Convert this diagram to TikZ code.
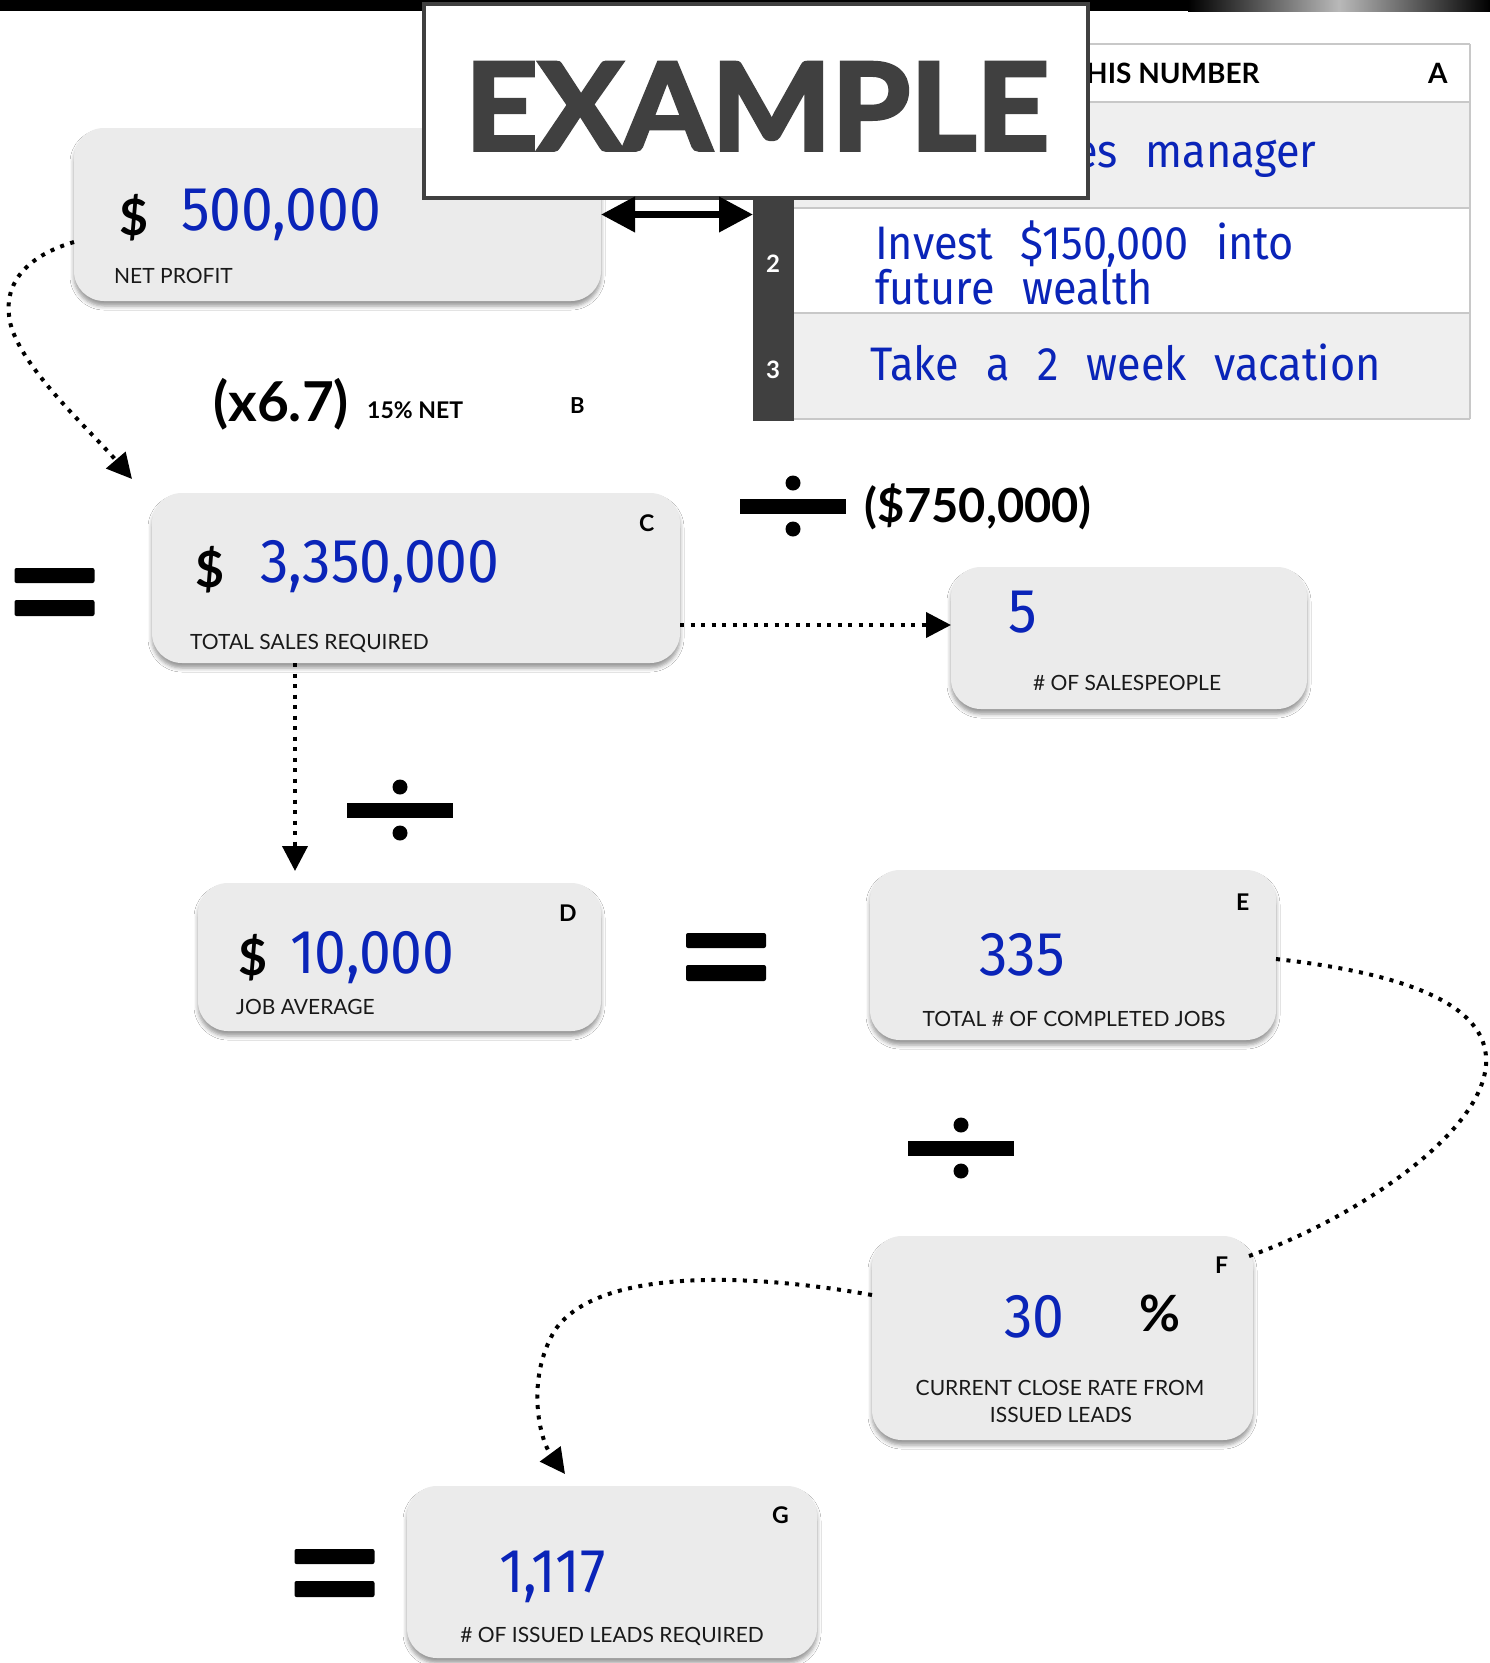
\documentclass[tikz,border=0pt]{standalone}
\usepackage{fontspec}
\setmainfont{Lato}
\newfontfamily\hand[FakeStretch=0.92,WordSpace=2.4]{Fira Sans}
\newfontfamily\exfont[FakeBold=3,FakeStretch=1.05]{Lato}
\usetikzlibrary{arrows.meta,shadows.blur}
\definecolor{boxgray}{HTML}{EBEBEB}
\definecolor{hblue}{HTML}{0A24B8}
\definecolor{exgray}{HTML}{404040}
\definecolor{rowgray}{HTML}{EFEFEF}
\definecolor{linegray}{HTML}{C8C8C8}
\newcommand\fs[1]{\fontsize{#1}{#1}\selectfont}
\begin{document}
\begin{tikzpicture}[x=1pt,y=-1pt,
  card/.style={draw=none, fill=boxgray, rounded corners=30pt, inner sep=0pt, outer sep=0pt, anchor=north west,
    blur shadow={shadow xshift=0pt, shadow yshift=-5pt, shadow blur radius=4pt, shadow opacity=40}},
  lbl/.style={font=\fs{21}, text=black!90, inner sep=0pt, anchor=base west},
  clbl/.style={font=\fs{21}, text=black!90, inner sep=0pt, anchor=base},
  letter/.style={font=\bfseries\fs{23}, inner sep=0pt, anchor=base west},
  hw/.style={font=\hand\fs{62}, text=hblue, inner sep=0pt, anchor=base west},
  hwrow/.style={font=\hand\fs{47}, text=hblue, inner sep=0pt, anchor=base west},
  dollar/.style={font=\bfseries\fs{50}, inner sep=0pt, anchor=base west},
  dotline/.style={line width=4pt, dash pattern=on 4pt off 6.5pt},
  tip/.style={-{Triangle[length=25pt,width=25pt]}},
  divsign/.pic={\fill (-53,-7.5) rectangle (53,7.5); \fill (0,-23) circle (7.5); \fill (0,23) circle (7.5);},
  eqsign/.pic={\fill[rounded corners=2pt] (-40,-24) rectangle (40,-9); \fill[rounded corners=2pt] (-40,8) rectangle (40,24);},
]
\useasboundingbox (0,0) rectangle (1490,1663);
\fill[white] (0,0) rectangle (1490,1663);
% top bar
\fill[black] (0,0) rectangle (1490,11);
\shade[left color=black, right color=black, middle color=gray!55] (1188,0) rectangle (1490,11);

% table
\fill[rowgray] (794,102) rectangle (1470,208);
\fill[rowgray] (794,313) rectangle (1470,419);
\draw[linegray, line width=1.5pt] (753,44) -- (1470,44) (753,102) -- (1470,102) (794,208) -- (1470,208)
  (794,313) -- (1470,313) (794,419) -- (1470,419) (1470,44) -- (1470,419);
\node[fill=exgray, minimum width=41pt, minimum height=319pt, inner sep=0pt, outer sep=0pt, anchor=north west] (tbar) at (753,102) {};
\node[font=\bfseries\fs{24}, text=white, inner sep=0pt] (n2) at (773,264) {2};
\node[font=\bfseries\fs{24}, text=white, inner sep=0pt] (n3) at (773,370) {3};
\node[font=\bfseries\fs{28}, inner sep=0pt, anchor=base west] (hdr) at (1086,83) {HIS NUMBER};
\node[font=\bfseries\fs{28}, inner sep=0pt, anchor=base west] (lA) at (1428,83) {A};
\node[hwrow] (r1) at (1074,167) {es manager};
\node[hwrow, align=left, font=\hand\fontsize{47}{42}\selectfont] (r2) at (875,304) {Invest \$150,000 into\\future wealth};
\node[hwrow] (r3) at (870,380) {Take a 2 week vacation};

% card A (under the EXAMPLE box)
\node[card, minimum width=527pt, minimum height=173pt] (A) at (74,128) {};

% EXAMPLE box
\node[draw=exgray, line width=3.5pt, fill=white, minimum width=664pt, minimum height=194pt, inner sep=0pt, outer sep=0pt, anchor=north west] (ex) at (424,4) {};
\node[font=\exfont\bfseries\fs{121}, text=exgray, inner sep=0pt, anchor=base] (extext) at (757,150) {EXAMPLE};

% other cards
\node[card, minimum width=528pt, minimum height=170pt] (C) at (152,493) {};
\node[card, minimum width=356pt, minimum height=142pt] (S) at (951,567) {};
\node[card, minimum width=403pt, minimum height=148pt] (D) at (198,883) {};
\node[card, minimum width=406pt, minimum height=170pt] (E) at (870,870) {};
\node[card, minimum width=381pt, minimum height=204pt] (F) at (872,1236) {};
\node[card, minimum width=410pt, minimum height=172pt] (G) at (407,1486) {};

% A content
\node[dollar] (Ad) at (119,235) {\$};
\node[hw] (Av) at (181,230) {500,000};
\node[lbl] (Al) at (114,283) {NET PROFIT};
% B
\node[font=\bfseries\fs{55}, inner sep=0pt, anchor=base west] (mult) at (213,421) {(x6.7)};
\node[font=\bfseries\fs{23}, inner sep=0pt, anchor=base west] (net) at (367,418) {15\% NET};
\node[font=\bfseries\fs{22}, inner sep=0pt, anchor=base west] (lB) at (570,413) {B};
% C content
\node[dollar] (Cd) at (195,587) {\$};
\node[hw] (Cv) at (260,582) {3,350,000};
\node[lbl] (Cl) at (190,649) {TOTAL SALES REQUIRED};
\node[letter] (lC) at (639,531) {C};
% divide 750,000
\pic at (793,506) {divsign};
\node[font=\bfseries\fs{47}, inner sep=0pt, anchor=base west] (sub) at (864,522) {(\$750,000)};
% S content
\node[hw] (Sv) at (1008,632) {5};
\node[clbl] (Sl) at (1127,690) {\# OF SALESPEOPLE};
% divide mid
\pic at (400,810) {divsign};
% D content
\node[dollar] (Dd) at (238,975) {\$};
\node[hw] (Dv) at (290,973) {10,000};
\node[lbl] (Dl) at (236,1014) {JOB AVERAGE};
\node[letter] (lD) at (559,921) {D};
% E content
\node[hw] (Ev) at (979,975) {335};
\node[clbl] (El) at (1074,1026) {TOTAL \# OF COMPLETED JOBS};
\node[letter] (lE) at (1236,910) {E};
% divide F
\pic at (961,1148) {divsign};
% F content
\node[hw] (Fv) at (1004,1337) {30};
\node[font=\bfseries\fs{50}, inner sep=0pt, anchor=base west] (pct) at (1139,1331) {\%};
\node[clbl] (Fl1) at (1060,1395) {CURRENT CLOSE RATE FROM};
\node[clbl] (Fl2) at (1061,1422) {ISSUED LEADS};
\node[letter] (lF) at (1215,1273) {F};
% G content
\node[hw] (Gv) at (499,1592) {1,117};
\node[clbl] (Gl) at (612,1642) {\# OF ISSUED LEADS REQUIRED};
\node[letter] (lG) at (772,1523) {G};

% equals
\pic at (54.5,592) {eqsign};
\pic at (726,957) {eqsign};
\pic at (334.5,1573) {eqsign};

% connectors
\draw[line width=7pt, {Triangle[length=34pt,width=34pt]}-{Triangle[length=34pt,width=34pt]}] (A.east) -- (A.east -| tbar.west);
\coordinate (ctip) at (132,479);
\draw[dotline, tip] (A.west |- 0,242) .. controls (30,255) and (5,280) .. (9,315) .. controls (12,360) and (90,430) .. (ctip);
\draw[dotline, tip] (C.east |- 0,625) -- (S.west |- 0,625);
\coordinate (dtip) at (295,871);
\draw[dotline, tip] (C.south -| dtip) -- (dtip);
\coordinate (fend) at (1249,1256);
\draw[dotline] (E.east |- 0,959) .. controls (1420,975) and (1490,1010) .. (1486,1065) .. controls (1480,1140) and (1340,1225) .. (fend);
\coordinate (gtip) at (565,1474);
\draw[dotline, tip] (F.west |- 0,1295) .. controls (760,1275) and (600,1265) .. (555,1330) .. controls (525,1380) and (540,1440) .. (gtip);
\end{tikzpicture}
\end{document}
